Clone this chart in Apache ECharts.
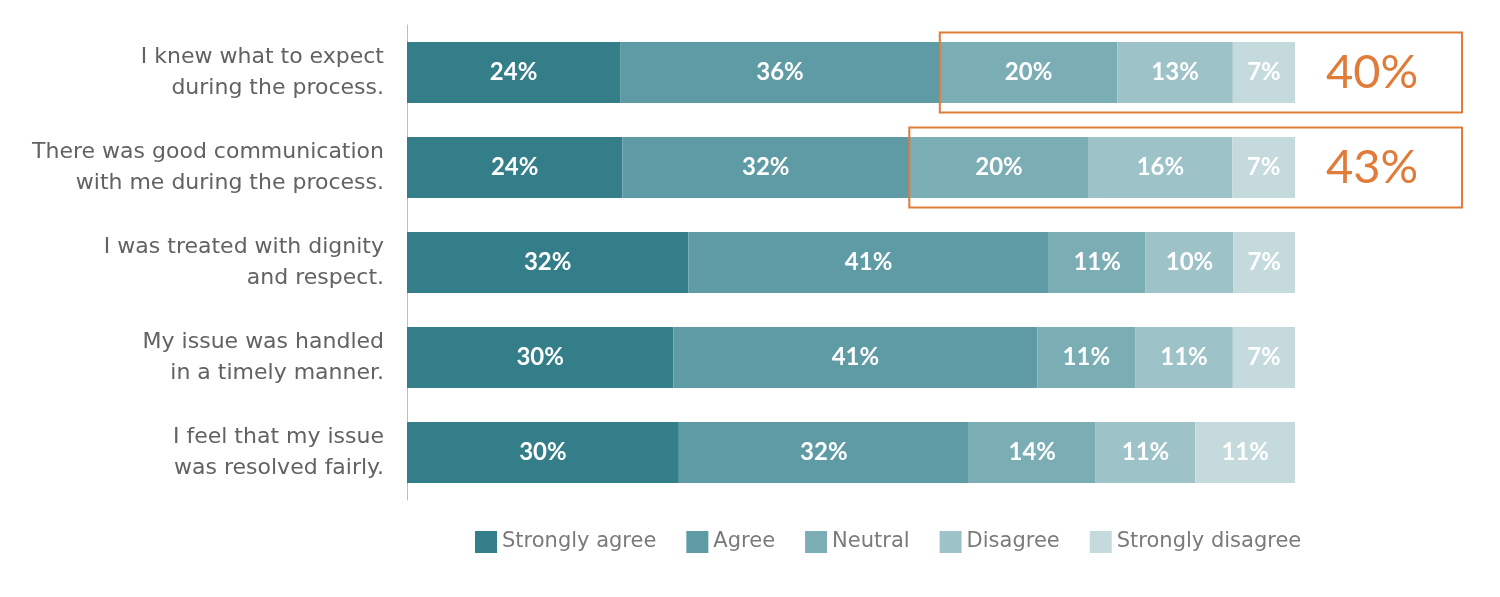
<!DOCTYPE html>
<html>
<head>
<meta charset="utf-8">
<script src="https://cdn.jsdelivr.net/npm/echarts@6/dist/echarts.min.js"></script>
<style>html,body{margin:0;padding:0;background:#fff;}#main{width:1500px;height:597px;}</style>
</head>
<body>
<div id="main"></div>
<script>
const categories = [
  'I knew what to expect\nduring the process.',
  'There was good communication\nwith me during the process.',
  'I was treated with dignity\nand respect.',
  'My issue was handled\nin a timely manner.',
  'I feel that my issue\nwas resolved fairly.'
];
const seriesNames = ['Strongly agree', 'Agree', 'Neutral', 'Disagree', 'Strongly disagree'];
const stronglyAgree = [24, 24, 32, 30, 30];
const agree = [36, 32, 41, 41, 32];
const neutral = [20, 20, 11, 11, 14];
const disagree = [13, 16, 10, 11, 11];
const stronglyDisagree = [7, 7, 7, 7, 11];
const highlightRows = [0, 1];

const colors = ['#337e89', '#5e9ba5', '#7badb5', '#9dc2c8', '#c5dadd'];
const FONT = 'Lato, "Open Sans", sans-serif';
const WIDE = '"DejaVu Sans", sans-serif';
const raw = [stronglyAgree, agree, neutral, disagree, stronglyDisagree];
const rowSums = categories.map((c, i) => raw.reduce((s, arr) => s + arr[i], 0));
const norm = raw.map(arr => arr.map((v, i) => v / rowSums[i] * 100));

const barSeries = raw.map((arr, k) => ({
  name: seriesNames[k],
  type: 'bar',
  stack: 'total',
  barWidth: '64%',
  itemStyle: { color: colors[k] },
  label: {
    show: true,
    position: 'inside',
    color: '#fff',
    fontSize: 24,
    fontWeight: 'bold',
    fontFamily: FONT,
    formatter: p => arr[p.dataIndex] + '%'
  },
  data: norm[k].map((v, i) => ({ value: v })),
  emphasis: { disabled: true }
}));

const highlightData = highlightRows.map(i => {
  const start = norm[0][i] + norm[1][i];
  const end = start + norm[2][i] + norm[3][i] + norm[4][i];
  const sum = neutral[i] + disagree[i] + stronglyDisagree[i];
  return [start, i, end, sum];
});

const highlightSeries = {
  type: 'custom',
  name: 'highlight',
  encode: { x: [0, 2], y: 1 },
  z: 10,
  silent: true,
  renderItem: (params, api) => {
    const s = api.coord([api.value(0), api.value(1)]);
    const e = api.coord([api.value(2), api.value(1)]);
    const band = api.size([0, 1])[1];
    const h = band * 0.84;
    return {
      type: 'group',
      children: [
        { type: 'rect', shape: { x: s[0], y: s[1] - h / 2, width: e[0] + 167 - s[0], height: h },
          style: { fill: 'none', stroke: '#e07b39', lineWidth: 2 } },
        { type: 'text', style: { text: api.value(3) + '%', x: e[0] + 77, y: s[1],
          align: 'center', verticalAlign: 'middle', fill: '#e07b39', fontSize: 47, fontFamily: FONT } }
      ]
    };
  },
  data: highlightData
};

const chart = echarts.init(document.getElementById('main'));
chart.setOption({
  animation: false,
  backgroundColor: '#fff',
  grid: { left: 407, right: 205, top: 25, bottom: 97, containLabel: false },
  xAxis: { type: 'value', min: 0, max: 100, show: false },
  yAxis: {
    type: 'category',
    data: categories,
    inverse: true,
    axisLine: { show: true, lineStyle: { color: '#bdbdbd', width: 1 } },
    axisTick: { show: false },
    axisLabel: { color: '#626262', fontSize: 22, lineHeight: 31, margin: 23, fontFamily: WIDE, align: 'right' }
  },
  legend: {
    data: seriesNames,
    left: 470,
    top: 526,
    itemWidth: 22,
    itemHeight: 22,
    itemGap: 30,
    icon: 'rect',
    textStyle: { color: '#7a7a7a', fontSize: 21, fontFamily: WIDE },
    selectedMode: false
  },
  series: [...barSeries, highlightSeries]
});
</script>
</body>
</html>
